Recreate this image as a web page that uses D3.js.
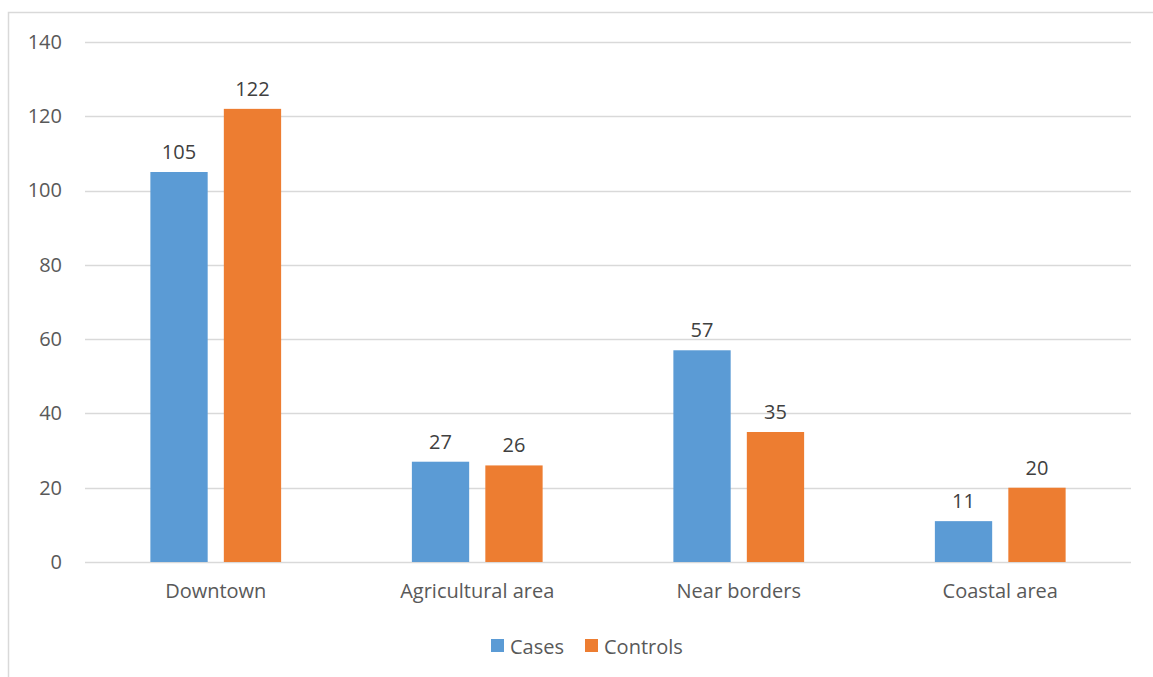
<!DOCTYPE html>
<html><head><meta charset="utf-8">
<script src="https://cdn.jsdelivr.net/npm/d3@7"></script>
<style>html,body{margin:0;padding:0;background:#fff;}svg{display:block;}</style>
</head><body>
<svg id="c" width="1153" height="677"></svg>
<script>
const categories = ["Downtown", "Agricultural area", "Near borders", "Coastal area"];
const seriesNames = ["Cases", "Controls"];
const cases = [105, 27, 57, 11];
const controls = [122, 26, 35, 20];
const yTicks = [0, 20, 40, 60, 80, 100, 120, 140];
const colors = ["#5B9BD5", "#ED7D31"];

const svg = d3.select("#c");
const font = "'Open Sans', 'Liberation Sans', sans-serif";
const fs = 20;
const W = 1153, H = 677;
const m = {left: 85, right: 22, top: 42, bottom: 115};

svg.append("rect").attr("x", 8.5).attr("y", 12.5).attr("width", W + 10).attr("height", H + 10)
  .attr("fill", "#fff").attr("stroke", "#d9d9d9").attr("stroke-width", 1.5);

const x = d3.scaleBand().domain(categories).range([m.left, W - m.right]).paddingInner(0).paddingOuter(0);
const x1 = d3.scaleBand().domain(seriesNames).range([0, x.bandwidth()]).paddingInner(0.22).paddingOuter(0.89);
const y = d3.scaleLinear().domain([0, 140]).range([H - m.bottom, m.top]);

// gridlines
svg.append("g").selectAll("line").data(yTicks).join("line")
  .attr("x1", m.left).attr("x2", W - m.right)
  .attr("y1", d => Math.round(y(d)) + 0.5).attr("y2", d => Math.round(y(d)) + 0.5)
  .attr("stroke", "#d9d9d9").attr("stroke-width", 1.5);

// y axis labels
const yAxis = d3.axisLeft(y).tickValues(yTicks).tickSize(0).tickPadding(0);
const gy = svg.append("g").attr("transform", `translate(${m.left - 23},0)`).call(yAxis);
gy.select(".domain").remove();
gy.selectAll("text").attr("font-family", font).attr("font-size", fs).attr("fill", "#595959");

// x axis labels
const xAxis = d3.axisBottom(x).tickSize(0).tickPadding(0);
const gx = svg.append("g").attr("transform", `translate(0,${H - m.bottom + 22})`).call(xAxis);
gx.select(".domain").remove();
gx.selectAll("text").attr("font-family", font).attr("font-size", fs).attr("fill", "#595959");

const data = categories.map((c, i) => ({cat: c, vals: [
  {s: seriesNames[0], v: cases[i], c: colors[0]},
  {s: seriesNames[1], v: controls[i], c: colors[1]}]}));

const groups = svg.append("g").selectAll("g").data(data).join("g")
  .attr("transform", d => `translate(${x(d.cat)},0)`);
groups.selectAll("rect").data(d => d.vals).join("rect")
  .attr("x", d => x1(d.s)).attr("width", x1.bandwidth())
  .attr("y", d => y(d.v)).attr("height", d => y(0) - y(d.v))
  .attr("fill", d => d.c);
groups.selectAll("text").data(d => d.vals).join("text")
  .attr("x", d => x1(d.s) + x1.bandwidth() / 2).attr("y", d => y(d.v) - 13)
  .attr("text-anchor", "middle").attr("font-family", font).attr("font-size", fs)
  .attr("fill", "#404040").text(d => d.v);

// legend
const legend = svg.append("g");
const legX = [491, 585];
seriesNames.forEach((s, i) => {
  legend.append("rect").attr("x", legX[i]).attr("y", 639).attr("width", 13).attr("height", 13).attr("fill", colors[i]);
  legend.append("text").attr("x", legX[i] + 19).attr("y", 654).attr("font-family", font).attr("font-size", fs)
    .attr("fill", "#595959").text(s);
});
</script>
</body></html>
